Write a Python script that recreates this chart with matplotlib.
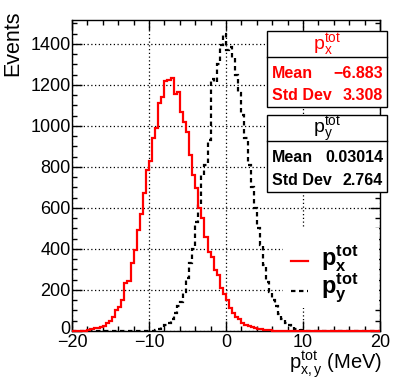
import numpy as np
import matplotlib
matplotlib.use("Agg")
import matplotlib.pyplot as plt
import matplotlib.transforms as mtransforms
from matplotlib.patches import Rectangle
from matplotlib.lines import Line2D
from matplotlib.ticker import MultipleLocator

plt.rcParams['font.family'] = ['Liberation Sans', 'DejaVu Sans']
plt.rcParams['mathtext.fontset'] = 'custom'
plt.rcParams['mathtext.rm'] = 'Liberation Sans'
plt.rcParams['mathtext.it'] = 'Liberation Sans:italic'
plt.rcParams['mathtext.bf'] = 'Liberation Sans:bold'

# ---- data ----
bin_edges = np.linspace(-20, 20, 101)
px_counts = [0, 0, 0, 0, 0, 3, 8, 13, 15, 20,
             25, 38, 50, 67, 100, 117, 150, 234, 245, 330,
             395, 493, 570, 673, 785, 830, 941, 990, 1112, 1141,
             1220, 1224, 1234, 1156, 1166, 1068, 1020, 970, 859, 761,
             697, 600, 551, 459, 385, 361, 298, 273, 210, 180,
             151, 112, 88, 68, 59, 39, 30, 25, 20, 15,
             12, 8, 6, 4, 3, 2, 1, 1, 0, 0,
             0, 0, 0, 0, 0, 0, 0, 0, 0, 0,
             0, 0, 0, 0, 0, 0, 0, 0, 0, 0,
             0, 0, 0, 0, 0, 0, 0, 0, 0, 0]
py_counts = [0, 0, 0, 0, 0, 0, 0, 0, 0, 0,
             0, 0, 0, 0, 0, 0, 0, 0, 0, 0,
             0, 0, 0, 0, 0, 1, 2, 5, 10, 18,
             30, 40, 60, 90, 120, 140, 190, 260, 330, 400,
             530, 620, 760, 810, 930, 1230, 1215, 1300, 1395, 1450,
             1370, 1385, 1330, 1250, 1160, 1055, 940, 810, 700, 600,
             500, 420, 320, 240, 190, 150, 120, 85, 60, 40,
             28, 18, 12, 8, 5, 3, 2, 1, 0, 0,
             0, 0, 0, 0, 0, 0, 0, 0, 0, 0,
             0, 0, 0, 0, 0, 0, 0, 0, 0, 0]
px_stats = ("-6.883", "3.308")
py_stats = ("0.03014", "2.764")

W, H = 399, 384
fig = plt.figure(figsize=(W / 100, H / 100), dpi=100)

def fx(x):
    return x / W

def fy(y):
    return 1 - y / H

DASH = (0, (2.0, 1.6))

L, R, T, B = 72, 380, 20, 331
ax = fig.add_axes([fx(L), fy(B), fx(R) - fx(L), fy(T) - fy(B)])
ax.set_xlim(-20, 20)
ax.set_ylim(0, 1517)

ax.stairs(py_counts, bin_edges, color='black', lw=1.6, linestyle=DASH, baseline=0, zorder=3)
ax.stairs(px_counts, bin_edges, color='#ff0000', lw=1.6, baseline=0, zorder=4, clip_on=False)

ax.xaxis.set_major_locator(MultipleLocator(10))
ax.xaxis.set_minor_locator(MultipleLocator(2))
ax.yaxis.set_major_locator(MultipleLocator(200))
ax.yaxis.set_minor_locator(MultipleLocator(50))
ax.tick_params(which='both', direction='in', top=True, right=True, width=1.0, labelsize=13)
ax.tick_params(which='major', length=7)
ax.tick_params(which='minor', length=3.5)
ax.tick_params(axis='x', pad=2)
ax.tick_params(axis='y', pad=1)
ax.grid(True, which='major', color='black', linestyle=(0, (1, 2)), lw=0.9)
for s in ax.spines.values():
    s.set_linewidth(1.0)

ax.set_xticks([-20, -10, 0, 10, 20])
ax.set_xticklabels(['\u221220', '\u221210', '0', '10', '20'])

# raise the y "0" label slightly, as in the reference
fig.canvas.draw()
for lab in ax.get_yticklabels():
    if lab.get_text() == '0':
        lab.set_transform(lab.get_transform() +
                          mtransforms.ScaledTranslation(0, 4 / 100, fig.dpi_scale_trans))

fig.text(fx(13), fy(10), 'Events', rotation=90, ha='center', va='top', fontsize=15.5)
fig.text(fx(382), fy(365), r'$\mathregular{p_{x,y}^{tot}}$ (MeV)', ha='right', va='center', fontsize=14.5)

# stats boxes
def stat_box(y0, y1, ysep, title, mean, std, color):
    fig.add_artist(Rectangle((fx(267), fy(y1)), fx(387) - fx(267), fy(y0) - fy(y1),
                             transform=fig.transFigure, facecolor='white', edgecolor='black',
                             lw=1.0, zorder=10))
    fig.add_artist(Line2D([fx(267), fx(387)], [fy(ysep), fy(ysep)], transform=fig.transFigure,
                          color='black', lw=1.0, zorder=11))
    fig.text(fx(327), fy((y0 + ysep) / 2 + 1), title, ha='center', va='center', fontsize=14,
             color=color, zorder=12)
    r1 = ysep + (y1 - ysep) * 0.32
    r2 = ysep + (y1 - ysep) * 0.77
    fig.text(fx(272), fy(r1), 'Mean', ha='left', va='center', fontsize=11.5, fontweight='bold',
             color=color, zorder=12)
    fig.text(fx(383), fy(r1), mean.replace('-', '\u2212'), ha='right', va='center', fontsize=11.5,
             fontweight='bold', color=color, zorder=12)
    fig.text(fx(272), fy(r2), 'Std Dev', ha='left', va='center', fontsize=11.5, fontweight='bold',
             color=color, zorder=12)
    fig.text(fx(383), fy(r2), std, ha='right', va='center', fontsize=11.5, fontweight='bold',
             color=color, zorder=12)

stat_box(31, 107, 57, r'$\mathregular{p_{x}^{tot}}$', px_stats[0], px_stats[1], '#ff0000')
stat_box(115, 192, 141, r'$\mathregular{p_{y}^{tot}}$', py_stats[0], py_stats[1], 'black')

# legend
fig.add_artist(Rectangle((fx(283), fy(308)), fx(379) - fx(283), fy(228) - fy(308),
                         transform=fig.transFigure, facecolor='white', edgecolor='none', zorder=5))
fig.add_artist(Line2D([fx(291), fx(308)], [fy(261), fy(261)], transform=fig.transFigure,
                      color='#ff0000', lw=1.6, zorder=6))
fig.add_artist(Line2D([fx(291), fx(308)], [fy(291), fy(291)], transform=fig.transFigure,
                      color='black', lw=1.6, linestyle=DASH, zorder=6))
fig.text(fx(321), fy(259), r'$\mathbf{p_{x}^{tot}}$', ha='left', va='center', fontsize=17, zorder=7)
fig.text(fx(321), fy(288), r'$\mathbf{p_{y}^{tot}}$', ha='left', va='center', fontsize=17, zorder=7)

fig.savefig('out.png', dpi=100)
